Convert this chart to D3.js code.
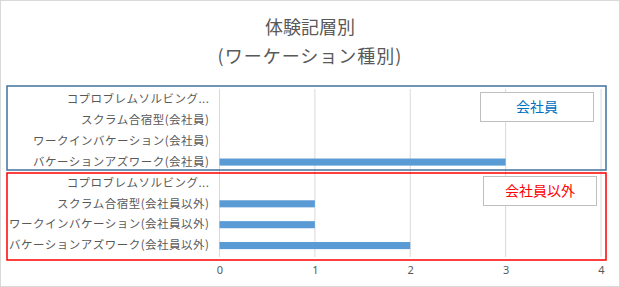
<!DOCTYPE html>
<html>
<head>
<meta charset="utf-8">
<script src="https://cdn.jsdelivr.net/npm/d3@7"></script>
<style>
  body { margin: 0; background: #fff; }
  svg { display: block; font-family: "Noto Sans CJK JP", "Noto Sans", sans-serif; }
</style>
</head>
<body>
<svg width="620" height="287"></svg>
<script>
"use strict";
// categories from top to bottom, as in the chart
const categories = [
    "コプロブレムソルビング...",
    "スクラム合宿型(会社員)",
    "ワークインバケーション(会社員)",
    "バケーションアズワーク(会社員)",
    "コプロブレムソルビング... ",
    "スクラム合宿型(会社員以外)",
    "ワークインバケーション(会社員以外)",
    "バケーションアズワーク(会社員以外)"
];
const counts = [0, 0, 0, 3, 0, 1, 1, 2];
const xTicks = [0, 1, 2, 3, 4];
const groupNames = ["会社員", "会社員以外"];

const svg = d3.select("svg");
const W = +svg.attr("width"), H = +svg.attr("height");

// outer chart border
svg.append("rect")
    .attr("x", 0.5).attr("y", 0.5)
    .attr("width", W - 1).attr("height", H - 1)
    .attr("fill", "#fff").attr("stroke", "#d9d9d9");

// title
svg.append("text")
    .attr("x", W / 2).attr("y", 34)
    .attr("text-anchor", "middle")
    .attr("font-size", 18).attr("fill", "#595959")
    .text("体験記層別");
svg.append("text")
    .attr("x", W / 2).attr("y", 63)
    .attr("text-anchor", "middle")
    .attr("font-size", 18).attr("fill", "#595959")
    .attr("letter-spacing", 1)
    .text("(ワーケーション種別)");

const x = d3.scaleLinear().domain([0, 4]).range([219.5, 601]);
const y = d3.scaleBand().domain(categories).range([89, 256]).paddingInner(0.66).paddingOuter(0.33);

// gridlines
svg.append("g")
    .selectAll("line")
    .data(xTicks)
    .join("line")
    .attr("x1", d => x(d)).attr("x2", d => x(d))
    .attr("y1", 89).attr("y2", 257)
    .attr("stroke", "#d9d9d9");

// bars
svg.append("g")
    .selectAll("rect")
    .data(counts)
    .join("rect")
    .attr("x", x(0))
    .attr("y", (d, i) => y(categories[i]))
    .attr("width", d => x(d) - x(0))
    .attr("height", y.bandwidth())
    .attr("fill", "#5b9bd5");

// x axis labels
const xAxis = svg.append("g")
    .attr("transform", "translate(0,266)")
    .call(d3.axisBottom(x).tickValues(xTicks).tickFormat(d3.format("d")).tickSize(0).tickPadding(0));
xAxis.select(".domain").remove();
xAxis.selectAll("text")
    .attr("font-size", 11).attr("fill", "#595959")
    .attr("font-family", "\"Noto Sans\", sans-serif");

// category labels
const yAxis = svg.append("g")
    .attr("transform", `translate(${x(0) - 10},0)`)
    .call(d3.axisLeft(y).tickSize(0).tickPadding(0));
yAxis.select(".domain").remove();
yAxis.selectAll("text")
    .attr("font-size", 11.5).attr("fill", "#595959")
    .attr("letter-spacing", 0.5)
    .attr("font-family", "\"Noto Sans CJK JP\", sans-serif");

// group frames
const frames = [
    { y0: 86, y1: 170, color: "#41719c" },
    { y0: 173, y1: 260, color: "#ff0000" }
];
svg.append("g")
    .selectAll("rect")
    .data(frames)
    .join("rect")
    .attr("x", 7).attr("y", d => d.y0)
    .attr("width", 599).attr("height", d => d.y1 - d.y0)
    .attr("fill", "none")
    .attr("stroke", d => d.color)
    .attr("stroke-width", 1.5);

// group labels
const labels = [
    { x: 480, y: 92, text: groupNames[0], color: "#0070c0" },
    { x: 483, y: 176, text: groupNames[1], color: "#ff0000" }
];
const lg = svg.append("g")
    .selectAll("g")
    .data(labels)
    .join("g")
    .attr("transform", d => `translate(${d.x},${d.y})`);
lg.append("rect")
    .attr("x", 0.5).attr("y", 0.5)
    .attr("width", 113).attr("height", 29)
    .attr("fill", "#fff").attr("stroke", "#bfbfbf");
lg.append("text")
    .attr("x", 57).attr("y", 20)
    .attr("text-anchor", "middle")
    .attr("font-size", 14)
    .attr("fill", d => d.color)
    .text(d => d.text);
</script>
</body>
</html>
